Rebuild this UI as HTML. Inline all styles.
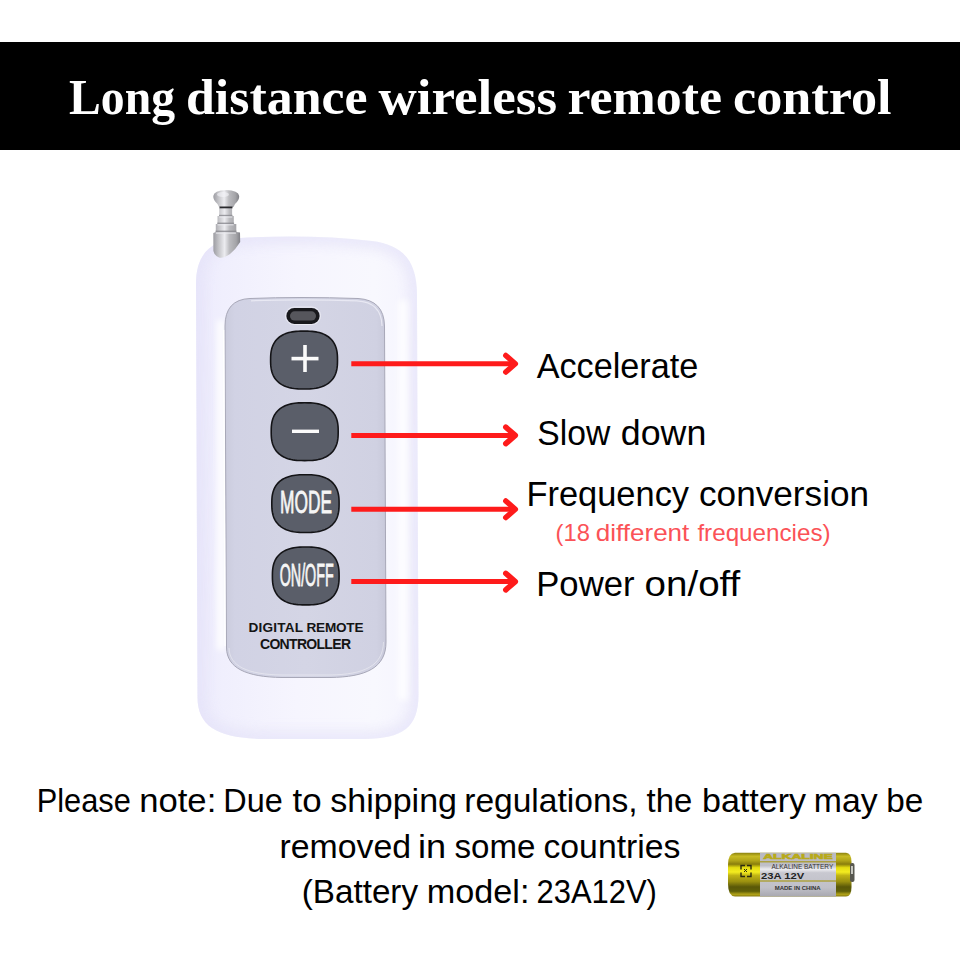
<!DOCTYPE html>
<html>
<head>
<meta charset="utf-8">
<style>
html,body{margin:0;padding:0;background:#fff;}
body{width:960px;height:960px;overflow:hidden;position:relative;}
svg{position:absolute;left:0;top:0;display:block;}
</style>
</head>
<body>
<svg width="960" height="960" viewBox="0 0 960 960">
<defs>
  <linearGradient id="bodyG" x1="196" y1="0" x2="419" y2="0" gradientUnits="userSpaceOnUse">
    <stop offset="0" stop-color="#eceafc"/>
    <stop offset="0.12" stop-color="#f0effd"/>
    <stop offset="0.45" stop-color="#f6f5fe"/>
    <stop offset="0.8" stop-color="#f8f8fe"/>
    <stop offset="1" stop-color="#f5f4fe"/>
  </linearGradient>
  <linearGradient id="bodyV" x1="0" y1="236" x2="0" y2="739" gradientUnits="userSpaceOnUse">
    <stop offset="0" stop-color="#ffffff" stop-opacity="0.35"/>
    <stop offset="0.15" stop-color="#ffffff" stop-opacity="0"/>
    <stop offset="0.85" stop-color="#ffffff" stop-opacity="0"/>
    <stop offset="1" stop-color="#e6e4f8" stop-opacity="0.3"/>
  </linearGradient>
  <linearGradient id="panelG" x1="225" y1="0" x2="386" y2="0" gradientUnits="userSpaceOnUse">
    <stop offset="0" stop-color="#cacbdc"/>
    <stop offset="0.06" stop-color="#d1d2e4"/>
    <stop offset="0.5" stop-color="#d4d5e5"/>
    <stop offset="0.94" stop-color="#d0d1e2"/>
    <stop offset="1" stop-color="#c8c9da"/>
  </linearGradient>
  <linearGradient id="antG" x1="0" y1="0" x2="1" y2="0">
    <stop offset="0" stop-color="#9c9ca2"/>
    <stop offset="0.2" stop-color="#c4c4c8"/>
    <stop offset="0.42" stop-color="#ececf0"/>
    <stop offset="0.6" stop-color="#bcbcc0"/>
    <stop offset="0.85" stop-color="#a4a4a8"/>
    <stop offset="1" stop-color="#808086"/>
  </linearGradient>
  <linearGradient id="batG" x1="0" y1="852.8" x2="0" y2="896.5" gradientUnits="userSpaceOnUse">
    <stop offset="0" stop-color="#8c8210"/>
    <stop offset="0.08" stop-color="#c8bc24"/>
    <stop offset="0.18" stop-color="#b0a418"/>
    <stop offset="0.26" stop-color="#8a7e0c"/>
    <stop offset="0.34" stop-color="#e4dc10"/>
    <stop offset="0.44" stop-color="#f4ec20"/>
    <stop offset="0.52" stop-color="#c0b414"/>
    <stop offset="0.66" stop-color="#9a9010"/>
    <stop offset="0.78" stop-color="#5a5808"/>
    <stop offset="0.88" stop-color="#606008"/>
    <stop offset="0.95" stop-color="#b0a218"/>
    <stop offset="1" stop-color="#8a7c10"/>
  </linearGradient>
  <linearGradient id="labG" x1="0" y1="852.5" x2="0" y2="896.5" gradientUnits="userSpaceOnUse">
    <stop offset="0" stop-color="#b8b8c0"/>
    <stop offset="0.3" stop-color="#c0c0c8"/>
    <stop offset="0.38" stop-color="#ececf0"/>
    <stop offset="0.46" stop-color="#c8c8d0"/>
    <stop offset="0.8" stop-color="#c0c0c8"/>
    <stop offset="1" stop-color="#a8a8b0"/>
  </linearGradient>
</defs>

<!-- banner -->
<rect x="0" y="42" width="960" height="108" fill="#000"/>
<g font-family="'Liberation Serif', serif" font-weight="bold" font-size="50" fill="#fff"><text x="69" y="114" textLength="106" lengthAdjust="spacingAndGlyphs">Long</text><text x="186" y="114" textLength="181.5" lengthAdjust="spacingAndGlyphs">distance</text><text x="378.5" y="114" textLength="178.5" lengthAdjust="spacingAndGlyphs">wireless</text><text x="567.5" y="114" textLength="154.5" lengthAdjust="spacingAndGlyphs">remote</text><text x="733" y="114" textLength="158.5" lengthAdjust="spacingAndGlyphs">control</text></g>

<!-- body -->
<clipPath id="bodyClip"><path d="M240,238 Q310,234 372,241 C404,245 417,262 417,295 L418.5,695 C418.5,728 402,738.5 365,739 L265,739 C220,738.5 197.5,728 197.5,697 L196,284 C196,255 210,239.5 240,238 Z"/></clipPath>
<filter id="blur6" x="-20%" y="-20%" width="140%" height="140%"><feGaussianBlur stdDeviation="6"/></filter>
<filter id="blur3" x="-50%" y="-20%" width="200%" height="140%"><feGaussianBlur stdDeviation="3"/></filter>
<path d="M240,238 Q310,234 372,241 C404,245 417,262 417,295 L418.5,695 C418.5,728 402,738.5 365,739 L265,739 C220,738.5 197.5,728 197.5,697 L196,284 C196,255 210,239.5 240,238 Z" fill="url(#bodyG)"/>
<g clip-path="url(#bodyClip)">
  <path d="M240,238 Q310,234 372,241 C404,245 417,262 417,295 L418.5,695 C418.5,728 402,738.5 365,739 L265,739 C220,738.5 197.5,728 197.5,697 L196,284 C196,255 210,239.5 240,238 Z" fill="none" stroke="#e4e2f8" stroke-width="16" filter="url(#blur6)" opacity="0.7"/>
  <rect x="398" y="300" width="10" height="400" fill="#ffffff" filter="url(#blur3)" opacity="0.8"/>
  <rect x="217" y="320" width="8" height="330" fill="#ffffff" filter="url(#blur3)" opacity="0.9"/>
</g>

<!-- antenna -->
<g>
  <path d="M219.2,208 L232.1,208 L232.1,216 L233.8,216 L233.8,224 L236.3,224 L236.3,232 L240,232.5 L240.2,242 Q236,249 230,254 Q224,258.5 219,257.5 Q214,255 213.4,251 L213.3,233 L215.8,232 L215.8,224 L217.5,224 L217.5,216 L219.2,216 Z" fill="url(#antG)"/>
  <g fill="#8a8a90" opacity="0.8">
    <rect x="219" y="214.8" width="13.5" height="1.4"/>
    <rect x="217.3" y="222.6" width="16.8" height="1.4"/>
    <rect x="215.6" y="230.6" width="20.8" height="1.6"/>
  </g>
  <g fill="#ececf0" opacity="0.75">
    <rect x="219.3" y="216.4" width="13" height="1.2"/>
    <rect x="217.6" y="224.2" width="16" height="1.2"/>
    <rect x="215.9" y="232.4" width="20" height="1.4"/>
  </g>
  <path d="M213.3,196 Q214,190.5 226,190 Q238.5,190.5 239.2,196 Q239.5,200 235,204 L233.5,207 L219,207 L217.5,204 Q213,200 213.3,196 Z" fill="url(#antG)"/>
  <rect x="219.5" y="206.5" width="13" height="1.8" fill="#2a2a2e"/>
  <ellipse cx="223" cy="194.5" rx="6" ry="2.5" fill="#f4f4f8" opacity="0.6"/>
</g>

<!-- panel -->
<path d="M250,298.5 Q300,296.5 358,298.5 Q384,300 384.5,326 L386,642 C386,668 366,677 330,677.5 L282,677.5 C246,677 227,668 226.5,648 L225,326 Q225,299.5 250,298.5 Z" fill="url(#panelG)" stroke="#a8a8b8" stroke-width="1"/>
<path d="M223.6,330 L225,646" fill="none" stroke="#ffffff" stroke-width="1.4" opacity="0.9"/>
<path d="M251,300.8 Q300,298.8 357,300.8 Q381.5,302 382,326" fill="none" stroke="#eeeef6" stroke-width="1.2" opacity="0.8"/>
<path d="M229,648 C229.5,666 247,674.5 282,675 L330,675 C364,674.5 383,666 383.5,642" fill="none" stroke="#eeeef4" stroke-width="1" opacity="0.6"/>

<!-- LED -->
<rect x="285.5" y="307" width="35" height="17.5" rx="8.7" fill="none" stroke="#f4f4fa" stroke-width="1" opacity="0.7"/>
<rect x="286.4" y="307.9" width="33.2" height="16" rx="8" fill="#18181c"/>
<rect x="290" y="311.3" width="26" height="9.2" rx="4.6" fill="#56565c"/>

<!-- buttons -->
<g fill="#5a5e69" stroke="#141417" stroke-width="1.6">
  <path d="M337.50,360.05 L337.46,363.04 L337.36,365.15 L337.18,367.00 L336.94,368.70 L336.62,370.29 L336.23,371.78 L335.78,373.20 L335.25,374.54 L334.66,375.82 L334.00,377.04 L333.27,378.19 L332.47,379.29 L331.60,380.32 L330.67,381.30 L329.67,382.23 L328.61,383.09 L327.48,383.90 L326.28,384.64 L325.01,385.34 L323.68,385.97 L322.27,386.54 L320.79,387.05 L319.24,387.51 L317.60,387.90 L315.88,388.24 L314.04,388.51 L312.08,388.73 L309.94,388.88 L307.51,388.97 L304.05,389.00 L300.59,388.97 L298.16,388.88 L296.02,388.73 L294.06,388.51 L292.22,388.24 L290.50,387.90 L288.86,387.51 L287.31,387.05 L285.83,386.54 L284.42,385.97 L283.09,385.34 L281.82,384.64 L280.62,383.90 L279.49,383.09 L278.43,382.23 L277.43,381.30 L276.50,380.32 L275.63,379.29 L274.83,378.19 L274.10,377.04 L273.44,375.82 L272.85,374.54 L272.32,373.20 L271.87,371.78 L271.48,370.29 L271.16,368.70 L270.92,367.00 L270.74,365.15 L270.64,363.04 L270.60,360.05 L270.64,357.06 L270.74,354.95 L270.92,353.10 L271.16,351.40 L271.48,349.81 L271.87,348.32 L272.32,346.90 L272.85,345.56 L273.44,344.28 L274.10,343.06 L274.83,341.91 L275.63,340.81 L276.50,339.78 L277.43,338.80 L278.43,337.87 L279.49,337.01 L280.62,336.20 L281.82,335.46 L283.09,334.76 L284.42,334.13 L285.83,333.56 L287.31,333.05 L288.86,332.59 L290.50,332.20 L292.22,331.86 L294.06,331.59 L296.02,331.37 L298.16,331.22 L300.59,331.13 L304.05,331.10 L307.51,331.13 L309.94,331.22 L312.08,331.37 L314.04,331.59 L315.88,331.86 L317.60,332.20 L319.24,332.59 L320.79,333.05 L322.27,333.56 L323.68,334.13 L325.01,334.76 L326.28,335.46 L327.48,336.20 L328.61,337.01 L329.67,337.87 L330.67,338.80 L331.60,339.78 L332.47,340.81 L333.27,341.91 L334.00,343.06 L334.66,344.28 L335.25,345.56 L335.78,346.90 L336.23,348.32 L336.62,349.81 L336.94,351.40 L337.18,353.10 L337.36,354.95 L337.46,357.06 Z"/>
  <path d="M338.20,431.70 L338.16,434.69 L338.06,436.79 L337.88,438.64 L337.64,440.33 L337.32,441.92 L336.93,443.41 L336.47,444.82 L335.95,446.17 L335.35,447.44 L334.69,448.66 L333.96,449.81 L333.16,450.90 L332.29,451.94 L331.36,452.92 L330.36,453.84 L329.29,454.70 L328.16,455.51 L326.96,456.25 L325.69,456.94 L324.36,457.57 L322.95,458.15 L321.47,458.66 L319.91,459.11 L318.27,459.51 L316.54,459.84 L314.71,460.11 L312.74,460.33 L310.60,460.48 L308.16,460.57 L304.70,460.60 L301.24,460.57 L298.80,460.48 L296.66,460.33 L294.69,460.11 L292.86,459.84 L291.13,459.51 L289.49,459.11 L287.93,458.66 L286.45,458.15 L285.04,457.57 L283.71,456.94 L282.44,456.25 L281.24,455.51 L280.11,454.70 L279.04,453.84 L278.04,452.92 L277.11,451.94 L276.24,450.90 L275.44,449.81 L274.71,448.66 L274.05,447.44 L273.45,446.17 L272.93,444.82 L272.47,443.41 L272.08,441.92 L271.76,440.33 L271.52,438.64 L271.34,436.79 L271.24,434.69 L271.20,431.70 L271.24,428.71 L271.34,426.61 L271.52,424.76 L271.76,423.07 L272.08,421.48 L272.47,419.99 L272.93,418.58 L273.45,417.23 L274.05,415.96 L274.71,414.74 L275.44,413.59 L276.24,412.50 L277.11,411.46 L278.04,410.48 L279.04,409.56 L280.11,408.70 L281.24,407.89 L282.44,407.15 L283.71,406.46 L285.04,405.83 L286.45,405.25 L287.93,404.74 L289.49,404.29 L291.13,403.89 L292.86,403.56 L294.69,403.29 L296.66,403.07 L298.80,402.92 L301.24,402.83 L304.70,402.80 L308.16,402.83 L310.60,402.92 L312.74,403.07 L314.71,403.29 L316.54,403.56 L318.27,403.89 L319.91,404.29 L321.47,404.74 L322.95,405.25 L324.36,405.83 L325.69,406.46 L326.96,407.15 L328.16,407.89 L329.29,408.70 L330.36,409.56 L331.36,410.48 L332.29,411.46 L333.16,412.50 L333.96,413.59 L334.69,414.74 L335.35,415.96 L335.95,417.23 L336.47,418.58 L336.93,419.99 L337.32,421.48 L337.64,423.07 L337.88,424.76 L338.06,426.61 L338.16,428.71 Z"/>
  <path d="M339.10,503.60 L339.06,506.59 L338.96,508.69 L338.78,510.54 L338.53,512.23 L338.21,513.82 L337.83,515.31 L337.37,516.72 L336.84,518.07 L336.24,519.34 L335.58,520.56 L334.84,521.71 L334.04,522.80 L333.17,523.84 L332.23,524.82 L331.23,525.74 L330.15,526.60 L329.02,527.41 L327.81,528.15 L326.54,528.84 L325.19,529.47 L323.78,530.05 L322.29,530.56 L320.73,531.01 L319.09,531.41 L317.35,531.74 L315.50,532.01 L313.53,532.23 L311.37,532.38 L308.93,532.47 L305.45,532.50 L301.97,532.47 L299.53,532.38 L297.37,532.23 L295.40,532.01 L293.55,531.74 L291.81,531.41 L290.17,531.01 L288.61,530.56 L287.12,530.05 L285.71,529.47 L284.36,528.84 L283.09,528.15 L281.88,527.41 L280.75,526.60 L279.67,525.74 L278.67,524.82 L277.73,523.84 L276.86,522.80 L276.06,521.71 L275.32,520.56 L274.66,519.34 L274.06,518.07 L273.53,516.72 L273.07,515.31 L272.69,513.82 L272.37,512.23 L272.12,510.54 L271.94,508.69 L271.84,506.59 L271.80,503.60 L271.84,500.61 L271.94,498.51 L272.12,496.66 L272.37,494.97 L272.69,493.38 L273.07,491.89 L273.53,490.48 L274.06,489.13 L274.66,487.86 L275.32,486.64 L276.06,485.49 L276.86,484.40 L277.73,483.36 L278.67,482.38 L279.67,481.46 L280.75,480.60 L281.88,479.79 L283.09,479.05 L284.36,478.36 L285.71,477.73 L287.12,477.15 L288.61,476.64 L290.17,476.19 L291.81,475.79 L293.55,475.46 L295.40,475.19 L297.37,474.97 L299.53,474.82 L301.97,474.73 L305.45,474.70 L308.93,474.73 L311.37,474.82 L313.53,474.97 L315.50,475.19 L317.35,475.46 L319.09,475.79 L320.73,476.19 L322.29,476.64 L323.78,477.15 L325.19,477.73 L326.54,478.36 L327.81,479.05 L329.02,479.79 L330.15,480.60 L331.23,481.46 L332.23,482.38 L333.17,483.36 L334.04,484.40 L334.84,485.49 L335.58,486.64 L336.24,487.86 L336.84,489.13 L337.37,490.48 L337.83,491.89 L338.21,493.38 L338.53,494.97 L338.78,496.66 L338.96,498.51 L339.06,500.61 Z"/>
  <path d="M339.10,575.95 L339.06,578.94 L338.96,581.05 L338.78,582.90 L338.54,584.60 L338.22,586.19 L337.84,587.68 L337.38,589.10 L336.86,590.44 L336.27,591.72 L335.61,592.94 L334.88,594.09 L334.08,595.19 L333.22,596.22 L332.29,597.20 L331.30,598.13 L330.23,598.99 L329.11,599.80 L327.91,600.54 L326.65,601.24 L325.32,601.87 L323.92,602.44 L322.44,602.95 L320.90,603.41 L319.26,603.80 L317.54,604.14 L315.71,604.41 L313.75,604.63 L311.62,604.78 L309.20,604.87 L305.75,604.90 L302.30,604.87 L299.88,604.78 L297.75,604.63 L295.79,604.41 L293.96,604.14 L292.24,603.80 L290.60,603.41 L289.06,602.95 L287.58,602.44 L286.18,601.87 L284.85,601.24 L283.59,600.54 L282.39,599.80 L281.27,598.99 L280.20,598.13 L279.21,597.20 L278.28,596.22 L277.42,595.19 L276.62,594.09 L275.89,592.94 L275.23,591.72 L274.64,590.44 L274.12,589.10 L273.66,587.68 L273.28,586.19 L272.96,584.60 L272.72,582.90 L272.54,581.05 L272.44,578.94 L272.40,575.95 L272.44,572.96 L272.54,570.85 L272.72,569.00 L272.96,567.30 L273.28,565.71 L273.66,564.22 L274.12,562.80 L274.64,561.46 L275.23,560.18 L275.89,558.96 L276.62,557.81 L277.42,556.71 L278.28,555.68 L279.21,554.70 L280.20,553.77 L281.27,552.91 L282.39,552.10 L283.59,551.36 L284.85,550.66 L286.18,550.03 L287.58,549.46 L289.06,548.95 L290.60,548.49 L292.24,548.10 L293.96,547.76 L295.79,547.49 L297.75,547.27 L299.88,547.12 L302.30,547.03 L305.75,547.00 L309.20,547.03 L311.62,547.12 L313.75,547.27 L315.71,547.49 L317.54,547.76 L319.26,548.10 L320.90,548.49 L322.44,548.95 L323.92,549.46 L325.32,550.03 L326.65,550.66 L327.91,551.36 L329.11,552.10 L330.23,552.91 L331.30,553.77 L332.29,554.70 L333.22,555.68 L334.08,556.71 L334.88,557.81 L335.61,558.96 L336.27,560.18 L336.86,561.46 L337.38,562.80 L337.84,564.22 L338.22,565.71 L338.54,567.30 L338.78,569.00 L338.96,570.85 L339.06,572.96 Z"/>
</g>
<g fill="#fbfbfb">
  <rect x="291.5" y="356.8" width="27" height="3.6"/>
  <rect x="303.2" y="345" width="3.6" height="27"/>
  <rect x="292" y="429.6" width="27" height="3.4"/>
</g>
<text x="306" y="513.4" font-family="'Liberation Sans', sans-serif" font-size="31" fill="#f6f6f6" text-anchor="middle" textLength="52" lengthAdjust="spacingAndGlyphs" stroke="#f6f6f6" stroke-width="0.8">MODE</text>
<text x="306.7" y="586" font-family="'Liberation Sans', sans-serif" font-size="30.5" fill="#f6f6f6" text-anchor="middle" textLength="54" lengthAdjust="spacingAndGlyphs" stroke="#f6f6f6" stroke-width="0.8">ON/OFF</text>
<text x="248.5" y="632.4" font-family="'Liberation Sans', sans-serif" font-weight="bold" font-size="13.6" fill="#141414" textLength="54.5" lengthAdjust="spacing">DIGITAL</text><text x="306.5" y="632.4" font-family="'Liberation Sans', sans-serif" font-weight="bold" font-size="13.6" fill="#141414" textLength="57" lengthAdjust="spacing">REMOTE</text>
<text x="260" y="648.6" font-family="'Liberation Sans', sans-serif" font-weight="bold" font-size="14" fill="#141414" textLength="91" lengthAdjust="spacing">CONTROLLER</text>

<!-- arrows -->
<g stroke="#fe1b1b" stroke-width="5" fill="none">
  <line x1="351.3" y1="363.75" x2="514" y2="363.75"/>
  <line x1="351.3" y1="435.4" x2="514" y2="435.4"/>
  <line x1="351.3" y1="509.25" x2="514" y2="509.25"/>
  <line x1="351.3" y1="581.6" x2="514" y2="581.6"/>
</g>
<g stroke="#fe1b1b" stroke-width="5.5" fill="none" stroke-linecap="round" stroke-linejoin="round">
  <polyline points="505.8,355.5 515.3,363.75 505.8,372"/>
  <polyline points="505.8,427.15 515.3,435.4 505.8,443.65"/>
  <polyline points="505.8,501 515.3,509.25 505.8,517.5"/>
  <polyline points="505.8,573.35 515.3,581.6 505.8,589.85"/>
</g>

<!-- labels -->
<g font-family="'Liberation Sans', sans-serif" fill="#000">
  <text x="536.7" y="378" font-size="35" textLength="161.64" lengthAdjust="spacingAndGlyphs">Accelerate</text>
  <text x="537.28" y="444.6" font-size="35" textLength="73.0" lengthAdjust="spacingAndGlyphs">Slow</text>
  <text x="620.88" y="444.6" font-size="35" textLength="85.43" lengthAdjust="spacingAndGlyphs">down</text>
  <text x="526.45" y="505.6" font-size="35" textLength="162.62" lengthAdjust="spacingAndGlyphs">Frequency</text>
  <text x="699.0" y="505.6" font-size="35" textLength="170.08" lengthAdjust="spacingAndGlyphs">conversion</text>
  <text x="555.61" y="541.2" font-size="24" fill="#fb5257" textLength="34.37" lengthAdjust="spacingAndGlyphs">(18</text>
  <text x="595.72" y="541.2" font-size="24" fill="#fb5257" textLength="93.61" lengthAdjust="spacingAndGlyphs">different</text>
  <text x="697.4" y="541.2" font-size="24" fill="#fb5257" textLength="133.19" lengthAdjust="spacingAndGlyphs">frequencies)</text>
  <text x="536.23" y="595.6" font-size="35" textLength="98.29" lengthAdjust="spacingAndGlyphs">Power</text>
  <text x="644.6" y="595.6" font-size="35" textLength="95.73" lengthAdjust="spacingAndGlyphs">on/off</text>
  <text x="36.7" y="812" font-size="33" textLength="94.14" lengthAdjust="spacingAndGlyphs">Please</text>
  <text x="139.15" y="812" font-size="33" textLength="77.13" lengthAdjust="spacingAndGlyphs">note:</text>
  <text x="223.3" y="812" font-size="33" textLength="59.47" lengthAdjust="spacingAndGlyphs">Due</text>
  <text x="292.5" y="812" font-size="33" textLength="29.12" lengthAdjust="spacingAndGlyphs">to</text>
  <text x="330.22" y="812" font-size="33" textLength="126.78" lengthAdjust="spacingAndGlyphs">shipping</text>
  <text x="464.22" y="812" font-size="33" textLength="173.44" lengthAdjust="spacingAndGlyphs">regulations,</text>
  <text x="646.6" y="812" font-size="33" textLength="45.67" lengthAdjust="spacingAndGlyphs">the</text>
  <text x="701.94" y="812" font-size="33" textLength="104.15" lengthAdjust="spacingAndGlyphs">battery</text>
  <text x="813.75" y="812" font-size="33" textLength="63.8" lengthAdjust="spacingAndGlyphs">may</text>
  <text x="886.28" y="812" font-size="33" textLength="37.05" lengthAdjust="spacingAndGlyphs">be</text>
  <text x="279.45" y="857.8" font-size="33" textLength="131.6" lengthAdjust="spacingAndGlyphs">removed</text>
  <text x="417.91" y="857.8" font-size="33" textLength="28.14" lengthAdjust="spacingAndGlyphs">in</text>
  <text x="454.5" y="857.8" font-size="33" textLength="80.96" lengthAdjust="spacingAndGlyphs">some</text>
  <text x="543.48" y="857.8" font-size="33" textLength="136.95" lengthAdjust="spacingAndGlyphs">countries</text>
  <text x="301.74" y="902.5" font-size="33" textLength="116.31" lengthAdjust="spacingAndGlyphs">(Battery</text>
  <text x="426.68" y="902.5" font-size="33" textLength="102.75" lengthAdjust="spacingAndGlyphs">model:</text>
  <text x="536.52" y="902.5" font-size="33" textLength="120.42" lengthAdjust="spacingAndGlyphs">23A12V)</text>
</g>

<!-- battery -->
<g>
  <path d="M735,852.8 L846,852.8 Q851.5,853 851.5,862 L851.5,887 Q851.5,896.5 846,896.5 L735,896.5 Q728,896 728,884 L728,865 Q728,853.2 735,852.8 Z" fill="url(#batG)"/>
  <rect x="850" y="863" width="4.5" height="19" rx="2" fill="#585850"/>
  <rect x="851" y="866" width="2" height="8" fill="#c8c8c0"/>
  <rect x="760" y="852.8" width="76" height="43.7" fill="url(#labG)"/>
  <rect x="760" y="861.2" width="76" height="1.2" fill="#a89a20"/>
  <rect x="760" y="880.4" width="76" height="1.2" fill="#a89a20"/>
  <text x="763.2" y="858.8" font-family="'Liberation Sans', sans-serif" font-weight="bold" font-size="7.5" fill="#b8aa18" textLength="69.5" lengthAdjust="spacingAndGlyphs" stroke="#b8aa18" stroke-width="0.6">ALKALINE</text>
  <text x="771.4" y="869" font-family="'Liberation Sans', sans-serif" font-size="7" fill="#333" textLength="61.8" lengthAdjust="spacingAndGlyphs">ALKALINE BATTERY</text>
  <text x="761" y="879" font-family="'Liberation Sans', sans-serif" font-weight="bold" font-size="9.5" fill="#222" textLength="43.2" lengthAdjust="spacingAndGlyphs">23A 12V</text>
  <text x="774.7" y="890" font-family="'Liberation Sans', sans-serif" font-weight="bold" font-size="6" fill="#333" textLength="46" lengthAdjust="spacingAndGlyphs">MADE IN CHINA</text>
  <g fill="none" stroke="#2a2a10" stroke-width="1.4">
    <path d="M741,869.5 L741,865.5 L745,865.5 M747,865.5 L751,865.5 L751,869.5 M751,872.5 L751,876.5 L747,876.5 M745,876.5 L741,876.5 L741,872.5"/>
    <path d="M744,869 L747,872 M747,869 L744,872" stroke-width="1"/>
  </g>
</g>
</svg>
</body>
</html>
